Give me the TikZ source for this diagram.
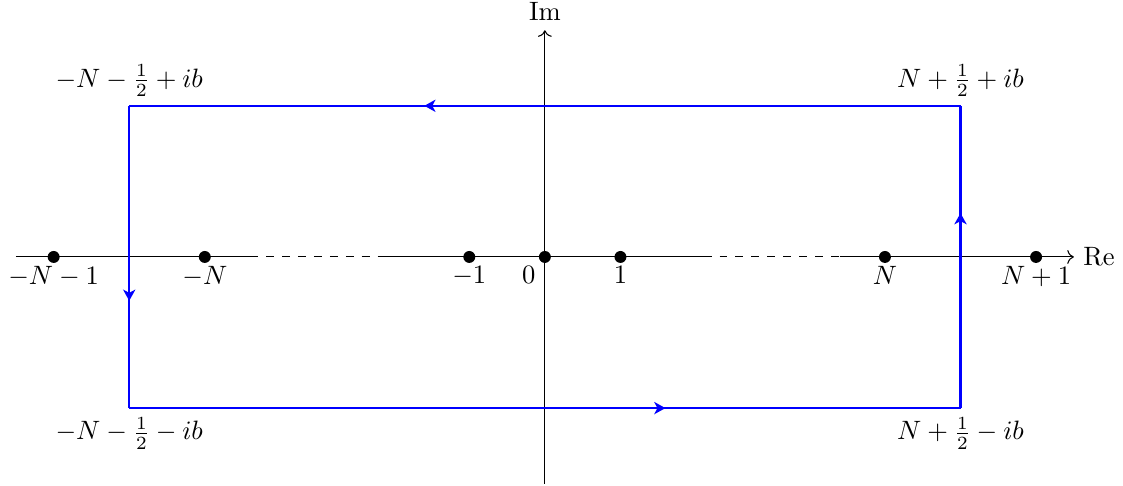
\documentclass[tikz,border=0pt]{standalone}
\usetikzlibrary{arrows.meta,decorations.markings}
\begin{document}
\begin{tikzpicture}[
  axis/.style={thin,black},
  dot/.style={circle,fill=black,inner sep=0pt,minimum size=4.5pt},
  contour/.style={thick,blue,postaction={decorate},
    decoration={markings,mark=at position 0.645 with {\arrow{Stealth[length=4.2pt,width=4.6pt,inset=1.2pt]}}}}
]
\useasboundingbox (-7.21,-3.03) rectangle (7.65,3.40);
% coordinates
\coordinate (xl) at (-7,0);
\coordinate (d1) at (-3.9,0);
\coordinate (d2) at (-2.1,0);
\coordinate (d3) at (2.1,0);
\coordinate (d4) at (3.9,0);
\coordinate (xr) at (7,0);
\coordinate (yb) at (0,-3);
\coordinate (yt) at (0,3);
% real axis
\draw[axis] (xl) -- (d1);
\draw[axis,dashed] (d1) -- (d2);
\draw[axis] (d2) -- (d3);
\draw[axis,dashed] (d3) -- (d4);
\draw[axis,->] (d4) -- (xr) node[right] (re) {Re};
% imaginary axis
\draw[axis,->] (yb) -- (yt) node[above] (im) {Im};
% contour corners
\coordinate (A) at (5.5,-2);
\coordinate (B) at (5.5,2);
\coordinate (C) at (-5.5,2);
\coordinate (D) at (-5.5,-2);
\draw[contour] (A) -- (B);
\draw[contour] (B) -- (C);
\draw[contour] (C) -- (D);
\draw[contour] (D) -- (A);
\node[above] (lB) at (B) {$N+\frac{1}{2}+ib$};
\node[above] (lC) at (C) {$-N-\frac{1}{2}+ib$};
\node[below] (lD) at (D) {$-N-\frac{1}{2}-ib$};
\node[below] (lA) at (A) {$N+\frac{1}{2}-ib$};
% points
\node[dot] (p0) at (0,0) {};
\node[dot] (p1) at (1,0) {};
\node[dot] (pm1) at (-1,0) {};
\node[dot] (pN) at (4.5,0) {};
\node[dot] (pN1) at (6.5,0) {};
\node[dot] (pmN) at (-4.5,0) {};
\node[dot] (pmN1) at (-6.5,0) {};
\node[below left] (t0) at (0,0) {$0$};
\node[below] (t1) at (1,0) {$1$};
\node[below] (tm1) at (-1,0) {$-1$};
\node[below] (tN) at (4.5,0) {$N$};
\node[below] (tN1) at (6.5,0) {$N+1$};
\node[below] (tmN) at (-4.5,0) {$-N$};
\node[below] (tmN1) at (-6.5,0) {$-N-1$};
\end{tikzpicture}
\end{document}
